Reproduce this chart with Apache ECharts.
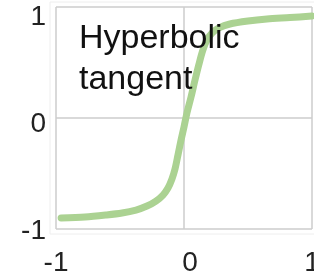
<!DOCTYPE html>
<html>
<head>
<meta charset="utf-8">
<script src="https://cdn.jsdelivr.net/npm/echarts@6/dist/echarts.min.js"></script>
<style>
html,body{margin:0;padding:0;background:#fff;}
#c{width:314px;height:279px;}
</style>
</head>
<body>
<div id="c"></div>
<script>
// Data
var xValues = [-0.96, -0.773, -0.609, -0.484, -0.375, -0.289, -0.219, -0.164, -0.125, -0.094, -0.070, -0.047, -0.023, 0.0, 0.023, 0.055, 0.086, 0.117, 0.148, 0.180, 0.219, 0.273, 0.359, 0.5, 0.648, 0.828, 1.0];
var yValues = [-0.90, -0.892, -0.874, -0.856, -0.829, -0.793, -0.748, -0.694, -0.631, -0.550, -0.459, -0.333, -0.198, -0.081, 0.045, 0.189, 0.342, 0.486, 0.613, 0.703, 0.766, 0.811, 0.847, 0.874, 0.892, 0.905, 0.919];
var xTicks = [-1, 0, 1];
var yTicks = [-1, 0, 1];
var titleText = 'Hyperbolic\ntangent';

var points = xValues.map(function (x, i) { return [x, yValues[i]]; });
var FONT = '"Liberation Sans", Arial, sans-serif';

var chart = echarts.init(document.getElementById('c'), null, {renderer: 'canvas'});
chart.setOption({
  animation: false,
  backgroundColor: '#fff',
  title: {
    text: titleText,
    left: 74, top: 13,
    textStyle: {fontFamily: FONT, fontSize: 34, fontWeight: 'normal', color: '#111', lineHeight: 41}
  },
  grid: [
    {left: 56, right: 2, top: 7, bottom: 50, show: false, containLabel: false, outerBoundsMode: 'none'},
    {left: 56, right: 2, top: 17.5, bottom: 48, show: false, containLabel: false, outerBoundsMode: 'none'},
    {left: 50, right: -10, top: 2, bottom: 45, show: true, borderColor: '#eeeeee', borderWidth: 1, backgroundColor: 'transparent', outerBoundsMode: 'none'}
  ],
  xAxis: [
    {
      gridIndex: 0, type: 'value', min: -1, max: 1, interval: 1,
      axisLine: {show: false}, axisTick: {show: false},
      splitLine: {show: true, lineStyle: {color: '#cccccc', width: 1.5}},
      axisLabel: {
        margin: 20, fontFamily: FONT, fontSize: 28, color: '#222',
        formatter: function (v) { return v === 0 ? '{s| }{z|0}' : String(v); },
        rich: {
          s: {width: 12, fontSize: 28},
          z: {fontFamily: FONT, fontSize: 28, color: '#222'}
        }
      }
    },
    {gridIndex: 1, type: 'value', min: -1, max: 1, show: false},
    {gridIndex: 2, type: 'value', min: 0, max: 1, show: false}
  ],
  yAxis: [
    {
      gridIndex: 0, type: 'value', min: -1, max: 1, interval: 1,
      axisLine: {show: false}, axisTick: {show: false},
      splitLine: {show: true, lineStyle: {color: '#cccccc', width: 1.5}},
      axisLabel: {show: false}
    },
    {
      gridIndex: 1, type: 'value', min: -1, max: 1, interval: 1,
      axisLine: {show: false}, axisTick: {show: false}, splitLine: {show: false},
      axisLabel: {margin: 10, fontFamily: FONT, fontSize: 28, color: '#222'}
    },
    {gridIndex: 2, type: 'value', min: 0, max: 1, show: false}
  ],
  series: [{
    type: 'line',
    xAxisIndex: 0, yAxisIndex: 0,
    data: points,
    smooth: 0.3,
    showSymbol: false,
    lineStyle: {color: '#abd292', width: 7, cap: 'round', join: 'round'},
    silent: true
  }]
});
</script>
</body>
</html>
